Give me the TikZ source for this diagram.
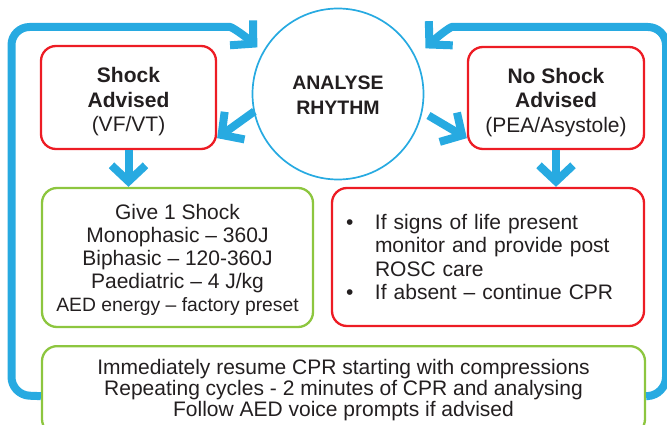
\documentclass[tikz,border=0pt]{standalone}
\usepackage{fontspec}
\setmainfont{Liberation Sans}
\usetikzlibrary{arrows.meta}
\definecolor{cprblue}{HTML}{27AAE1}
\definecolor{cprred}{HTML}{ED1C24}
\definecolor{cprgreen}{HTML}{8DC63F}
\definecolor{cprtext}{HTML}{231F20}
\begin{document}
\begin{tikzpicture}[x=1pt,y=-1pt,
  box/.style={draw, line width=2.3pt, rounded corners=15pt, text=cprtext,
    align=center, inner sep=0pt},
  redbox/.style={box, draw=cprred},
  greenbox/.style={box, draw=cprgreen},
  bodytext/.style={font=\fontsize{21}{23}\selectfont},
  cprarrow/.style={draw=cprblue, line width=8pt,
    -{Straight Barb[length=16pt,width=34pt,line width=8pt]}}
]
\useasboundingbox (0,0) rectangle (667,425);

% central decision
\node[draw=cprblue, line width=1.7pt, circle, minimum size=171pt, inner sep=0pt,
      align=center, text=cprtext, font=\bfseries\fontsize{19.5}{25}\selectfont]
      (rhythm) at (338,94) {\rule{0pt}{17pt}ANALYSE\\RHYTHM};

% rhythm outcomes
\node[redbox, minimum width=175pt, minimum height=103pt,
      font=\fontsize{21}{24.5}\selectfont] (shock) at (128.5,97.5)
      {\rule{0pt}{23.5pt}\textbf{Shock}\\\textbf{Advised}\\(VF/VT)};
\node[redbox, minimum width=176pt, minimum height=102pt,
      font=\fontsize{21}{24.5}\selectfont] (noshock) at (556,98)
      {\rule{0pt}{23.5pt}\textbf{No Shock}\\\textbf{Advised}\\(PEA/Asystole)};

% actions
\node[greenbox, minimum width=271pt, minimum height=139pt, bodytext] (give) at (177.5,257.5)
      {\rule{0pt}{19.5pt}Give 1 Shock\\Monophasic – 360J\\Biphasic – 120-360J\\Paediatric – 4 J/kg\\
       {\fontsize{19.3}{23}\selectfont AED energy – factory preset}};
\node[redbox, minimum width=312pt, minimum height=138pt, inner xsep=14pt,
      text width=284pt, align=left, font=\fontsize{21}{23.5}\selectfont] (signs) at (488,257)
      {\makebox[29pt][l]{\textbullet}If signs of life present\\
       \hspace*{29pt}monitor and provide post\\
       \hspace*{29pt}ROSC care\\
       \makebox[29pt][l]{\textbullet}If absent – continue CPR};

\node[greenbox, minimum width=603pt, minimum height=88pt, anchor=north,
      font=\fontsize{21}{21}\selectfont] (cpr) at (343.5,345)
      {Immediately resume CPR starting with compressions\\
       Repeating cycles - 2 minutes of CPR and analysing\\
       Follow AED voice prompts if advised};

% connectors
\draw[cprarrow, shorten <=-1pt] (rhythm.192) -- ([yshift=12pt]shock.south east);
\draw[cprarrow, shorten <=7pt] (rhythm.-12) -- ([yshift=12pt]noshock.south west);
\draw[cprarrow] (shock.south) -- (shock.south |- give.north);
\draw[cprarrow] (noshock.south) -- (noshock.south |- signs.north);

% return loops back to the rhythm check
\draw[cprarrow, rounded corners=18pt, shorten >=7pt]
  ([yshift=-6pt]cpr.west) -- (11.5,395) -- (11.5,27) -- (212,27)
  .. controls (232,27) and (245,36) .. (rhythm.151);
\draw[cprarrow, rounded corners=18pt, shorten >=13pt]
  ([yshift=-6pt]cpr.east) -- (666,395) -- (666,27) -- (470,27)
  .. controls (450,27) and (437,37) .. (rhythm.25);
\end{tikzpicture}
\end{document}
